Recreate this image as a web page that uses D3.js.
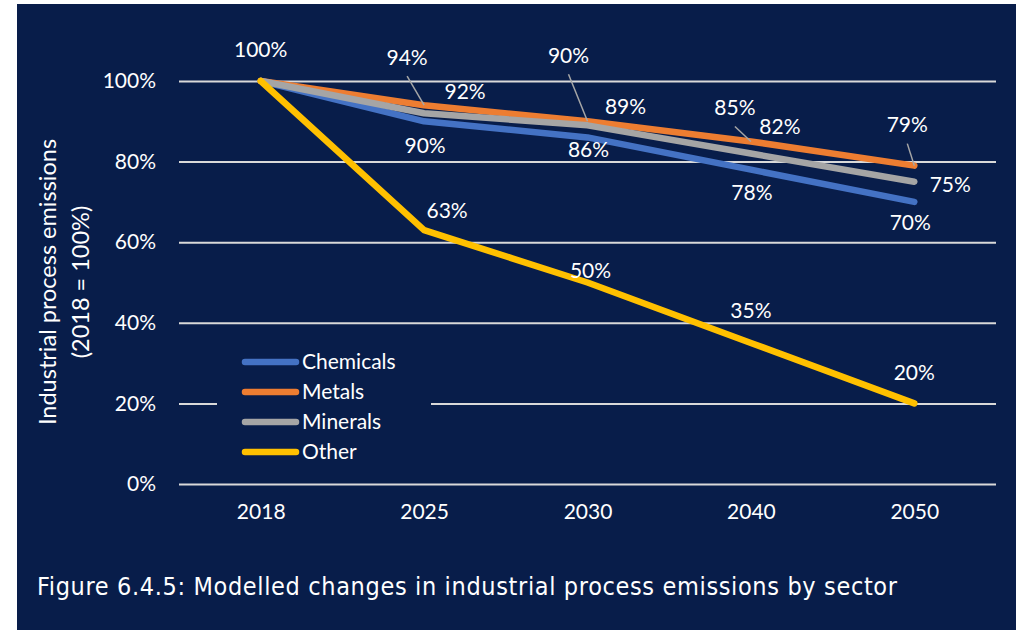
<!DOCTYPE html>
<html>
<head>
<meta charset="utf-8">
<script src="https://cdn.jsdelivr.net/npm/d3@7/dist/d3.min.js"></script>
<style>
  html, body { margin: 0; padding: 0; background: #ffffff; }
  svg { display: block; }
  text { fill: #ffffff; }
</style>
</head>
<body>
<svg id="chart" width="1016" height="630"></svg>
<script>
// Years on the category axis
const years = ["2018", "2025", "2030", "2040", "2050"];

// Emissions relative to 2018 (1 = 100%)
const chemicals = [1.00, 0.90, 0.86, 0.78, 0.70];
const metals    = [1.00, 0.94, 0.90, 0.85, 0.79];
const minerals  = [1.00, 0.92, 0.89, 0.82, 0.75];
const other     = [1.00, 0.63, 0.50, 0.35, 0.20];

// Value-axis ticks
const yTicks = [0, 0.2, 0.4, 0.6, 0.8, 1.0];

const seriesNames = ["Chemicals", "Metals", "Minerals", "Other"];
const seriesColors = ["#4472c4", "#ed7d31", "#a5a5a5", "#ffc000"];
const seriesValues = [chemicals, metals, minerals, other];

// Data-label placement relative to each point: [dx, dy, leader line?]; null = no label
const labelOffsets = [
  [[0, -31, false], [1, 24, false], [1, 12, false], [1, 23, false], [-4, 21, false]],
  [null, [-17, -48, true], [-19, -66, true], [-16, -34, true], [-7, -41, true]],
  [null, [41, -22, false], [38, -19, false], [29, -27, false], [36, 3, false]],
  [null, [23, -19, false], [3, -12, false], [0, -32, false], [0, -31, false]]
];

const FONT = "Lato, 'Open Sans', sans-serif";
const FS = 21;

const svg = d3.select("#chart");

// Panel background
svg.append("rect")
  .attr("x", 17).attr("y", 4)
  .attr("width", 1016 - 17).attr("height", 630 - 4)
  .attr("fill", "#081d4a");

const plot = { left: 179, right: 996, top: 81, bottom: 484 };

const x = d3.scalePoint()
  .domain(years)
  .range([plot.left, plot.right])
  .padding(0.5);

const y = d3.scaleLinear()
  .domain([0, 1])
  .range([plot.bottom, plot.top]);

// Horizontal gridlines
const grid = svg.append("g")
  .attr("transform", `translate(${plot.left},0)`)
  .call(d3.axisLeft(y).tickValues(yTicks).tickSize(-(plot.right - plot.left)).tickFormat(""));
grid.select(".domain").remove();
grid.selectAll(".tick line").attr("stroke", "#d9d9d9").attr("stroke-width", 2);

// Value axis labels
const yAxis = svg.append("g")
  .attr("transform", `translate(${plot.left - 23},0)`)
  .call(d3.axisLeft(y).tickValues(yTicks).tickSize(0).tickPadding(0).tickFormat(d3.format(".0%")));
yAxis.select(".domain").remove();
yAxis.selectAll("text")
  .style("font-family", FONT)
  .style("font-size", FS + "px")
  .attr("fill", "#ffffff");

// Category axis labels
const xAxis = svg.append("g")
  .attr("transform", `translate(0,${plot.bottom + 20})`)
  .call(d3.axisBottom(x).tickSize(0).tickPadding(0));
xAxis.select(".domain").remove();
xAxis.selectAll("text")
  .style("font-family", FONT)
  .style("font-size", FS + "px")
  .attr("fill", "#ffffff")
  .attr("dy", "0.7em");

// Axis title
const yTitle = svg.append("text")
  .attr("transform", "translate(48,282) rotate(-90)")
  .attr("text-anchor", "middle")
  .style("font-family", FONT)
  .style("font-size", "23.5px");
yTitle.append("tspan").attr("x", 0).attr("dy", "0.35em").text("Industrial process emissions");
yTitle.append("tspan").attr("x", 0).attr("dy", "1.4em").text("(2018 = 100%)");

// Series lines
const line = d3.line()
  .x((d, i) => x(years[i]))
  .y(d => y(d));

seriesValues.forEach((vals, s) => {
  svg.append("path")
    .datum(vals)
    .attr("d", line)
    .attr("fill", "none")
    .attr("stroke", seriesColors[s])
    .attr("stroke-width", 6.5)
    .attr("stroke-linejoin", "round")
    .attr("stroke-linecap", "round");
});

// Data labels with leader lines
const fmt = d3.format(".0%");
seriesValues.forEach((vals, s) => {
  vals.forEach((v, i) => {
    const off = labelOffsets[s][i];
    if (!off) return;
    const px = x(years[i]), py = y(v);
    const lx = px + off[0], ly = py + off[1];
    if (off[2]) {
      svg.append("line")
        .attr("x1", lx).attr("y1", ly + 19)
        .attr("x2", px).attr("y2", py)
        .attr("stroke", "#a6a6a6")
        .attr("stroke-width", 1.5);
    }
    svg.append("text")
      .attr("x", lx).attr("y", ly)
      .attr("text-anchor", "middle")
      .attr("dy", "0.35em")
      .style("font-family", FONT)
      .style("font-size", FS + "px")
      .text(fmt(v));
  });
});

// Legend
const legend = svg.append("g");
legend.append("rect")
  .attr("x", 217).attr("y", 346)
  .attr("width", 214).attr("height", 122)
  .attr("fill", "#081d4a");
seriesNames.forEach((name, s) => {
  const ly = 362 + s * 30;
  legend.append("line")
    .attr("x1", 245).attr("x2", 296)
    .attr("y1", ly).attr("y2", ly)
    .attr("stroke", seriesColors[s])
    .attr("stroke-width", 6.5)
    .attr("stroke-linecap", "round");
  legend.append("text")
    .attr("x", 302).attr("y", ly)
    .attr("dy", "0.35em")
    .style("font-family", FONT)
    .style("font-size", FS + "px")
    .text(name);
});

// Caption
svg.append("text")
  .attr("x", 37).attr("y", 586)
  .attr("dy", "0.35em")
  .attr("textLength", 860)
  .attr("lengthAdjust", "spacing")
  .style("font-family", "'DejaVu Sans Condensed', 'DejaVu Sans', sans-serif")
  .style("font-size", "25px")
  .text("Figure 6.4.5: Modelled changes in industrial process emissions by sector");
</script>
</body>
</html>
